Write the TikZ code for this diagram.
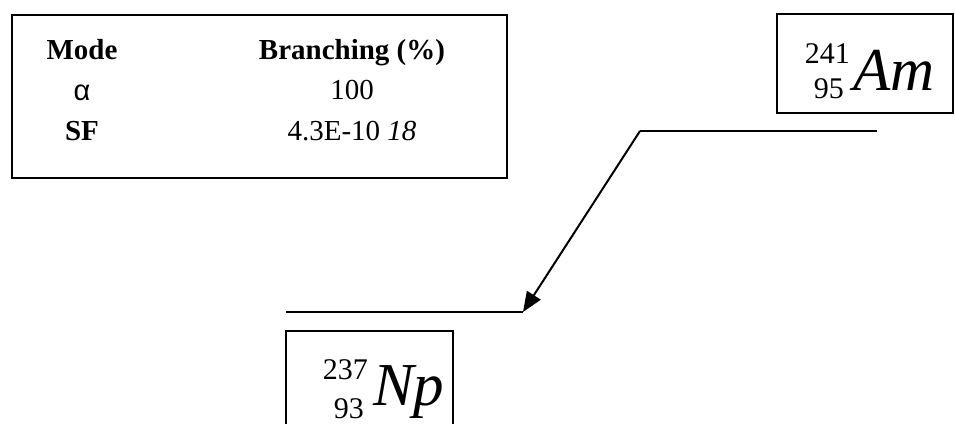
\documentclass[tikz,border=0pt]{standalone}
\usepackage{fontspec}
\setmainfont{Liberation Serif}
\newfontfamily\greekfont{Liberation Sans}
\usetikzlibrary{arrows.meta}
\begin{document}
\begin{tikzpicture}[x=1pt,y=-1pt,
  frame/.style={draw,line width=1.8pt,inner sep=0pt},
  lvl/.style={line width=1.8pt},
  txt/.style={inner sep=0pt,anchor=base,font=\fontsize{29}{31}\selectfont},
  big/.style={inner sep=0pt,anchor=base west,font=\fontsize{61}{64}\selectfont\itshape},
  num/.style={inner sep=0pt,font=\fontsize{30}{31}\selectfont},
  decay/.style={line width=2pt,-{Triangle[length=20pt,width=16pt]}}]
\useasboundingbox (0,0) rectangle (955,423);
% table
\node[frame,minimum width=495pt,minimum height=163pt,anchor=north west] (tbl) at (11,14) {};
\node[txt] (hmode) at (82,59) {\bfseries Mode};
\node[txt] (hbr) at (352,59) {\bfseries Branching (\%)};
\node[txt] (alpha) at (82,100) {\greekfont α};
\node[txt] (v100) at (352,99) {100};
\node[txt] (sf) at (82,140) {\bfseries SF};
\node[txt] (vsf) at (352,140) {4.3E-10 \textit{18}};
% Am box
\node[frame,minimum width=176pt,minimum height=99pt,anchor=north west] (ambox) at (776,13) {};
\node[big] (am) at (853,90) {Am};
\node[num,anchor=base east] (ama) at (850,63) {241};
\node[num,anchor=base east] (amz) at (844,98) {95};
% Np box
\draw[line width=1.8pt] (286,440) coordinate (npbl) -- (286,331) -- (453,331) -- (453,440) coordinate (npbr);
\node[big] (np) at (373,405) {Np};
\node[num,anchor=base east] (npa) at (368,379) {237};
\node[num,anchor=base east] (npz) at (364,418) {93};
% levels
\coordinate (amL) at (640,131);
\coordinate (amR) at (877,131);
\coordinate (npL) at (286,312);
\coordinate (npR) at (523,312);
\draw[lvl] (amL) -- (amR);
\draw[lvl] (npL) -- (npR);
\draw[decay] (amL) -- (npR);
\end{tikzpicture}
\end{document}
